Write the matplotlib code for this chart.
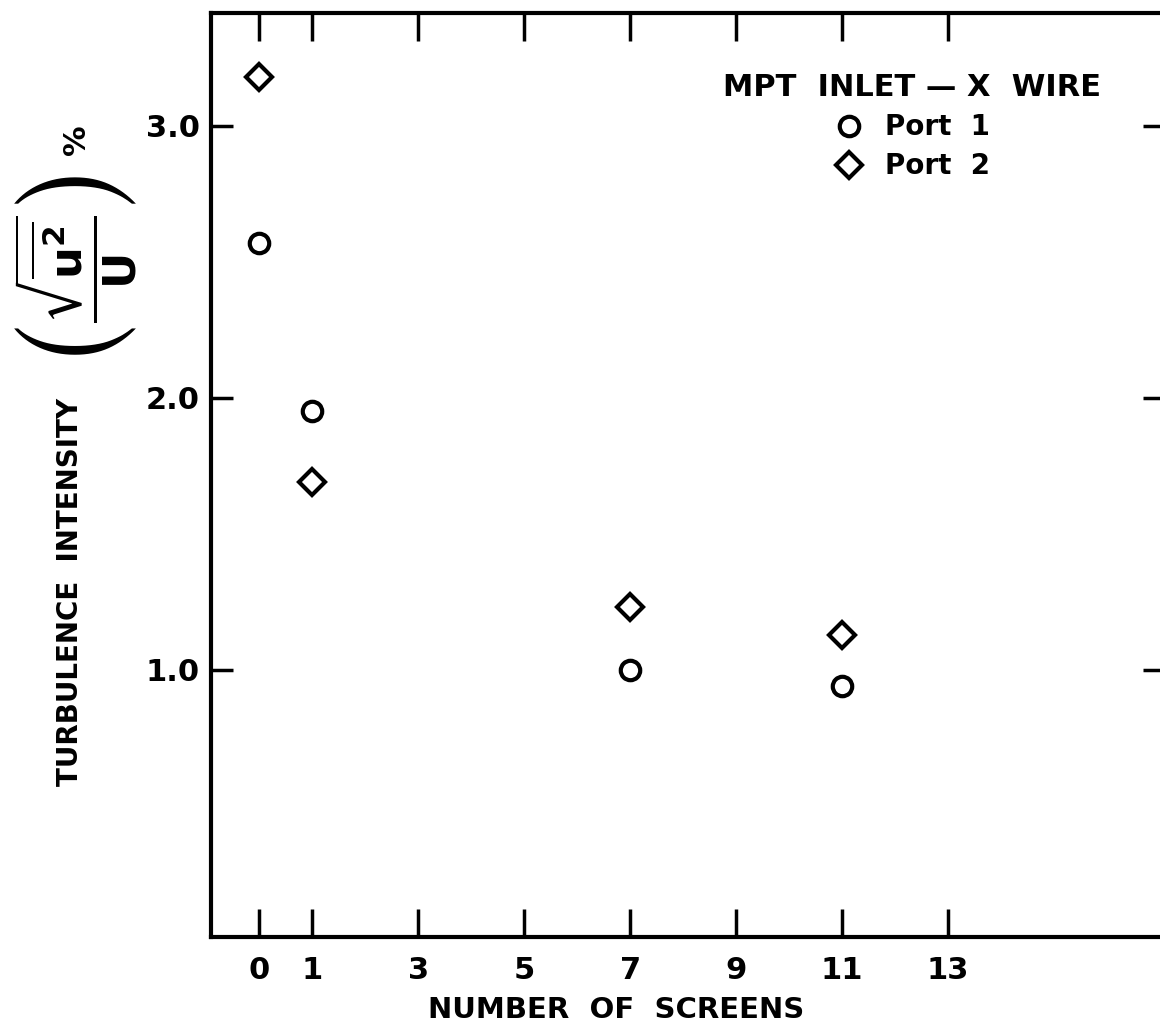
import matplotlib
matplotlib.use("Agg")
import matplotlib.pyplot as plt

plt.rcParams['font.family'] = ['DejaVu Sans']
plt.rcParams['font.weight'] = 'bold'
plt.rcParams['mathtext.default'] = 'bf'

# data
screens = [0, 1, 7, 11]
port1 = [2.57, 1.95, 1.00, 0.94]
port2 = [3.18, 1.69, 1.23, 1.13]

x_ticks = [0, 1, 3, 5, 7, 9, 11, 13]
x_ticklabels = ['0', '1', '3', '5', '7', '9', '11', '13']
y_ticks = [1.0, 2.0, 3.0]
y_ticklabels = ['1.0', '2.0', '3.0']

W, H = 1160, 1032
fig = plt.figure(figsize=(W / 100, H / 100), dpi=100)
ax = fig.add_axes([211 / W, (H - 937) / H, (1165 - 211) / W, (937 - 13) / H])

ax.plot(screens, port1, 'o', ms=14, mfc='none', mec='black', mew=3, label='Port  1')
ax.plot(screens, port2, 'D', ms=13, mfc='none', mec='black', mew=3, label='Port  2')

ax.set_xlim(-0.906, 17.09)
ax.set_ylim(0.018, 3.415)

ax.set_xticks(x_ticks)
ax.set_xticklabels(x_ticklabels, fontsize=22, fontweight='bold')
ax.set_yticks(y_ticks)
ax.set_yticklabels(y_ticklabels, fontsize=22, fontweight='bold')

ax.tick_params(axis='x', direction='in', length=20, width=2.5, pad=14,
               top=True, bottom=True)
ax.tick_params(axis='y', direction='in', length=16, width=2.5, pad=8,
               left=True, right=True)
for s in ax.spines.values():
    s.set_linewidth(3)

leg = ax.legend(loc='upper center', bbox_to_anchor=(0.735, 0.962),
                frameon=False, title='MPT  INLET — X  WIRE',
                prop={'size': 20, 'weight': 'bold'},
                title_fontproperties={'size': 22, 'weight': 'bold'},
                handlelength=1.0, handletextpad=0.8, labelspacing=0.4,
                numpoints=1)

ax.set_xlabel('NUMBER  OF  SCREENS', fontsize=21, fontweight='bold')
ax.xaxis.set_label_coords(0.425, -0.064)

fig.text(70 / W, 1 - 592 / H, 'TURBULENCE  INTENSITY', rotation=90,
         fontsize=20, fontweight='bold', ha='center', va='center')
fig.text(76 / W, 1 - 268 / H,
         r'$\left(\frac{\sqrt{\overline{u^2}}}{U}\right)$', rotation=90,
         fontsize=46, ha='center', va='center')
fig.text(77 / W, 1 - 140 / H, '%', rotation=90, fontsize=22,
         fontweight='bold', ha='center', va='center')

fig.savefig('out.png', dpi=100)
